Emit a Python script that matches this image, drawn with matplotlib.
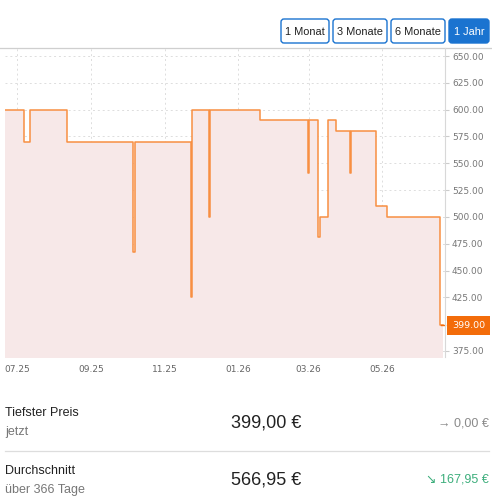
import matplotlib
matplotlib.use("Agg")
import matplotlib.pyplot as plt
import matplotlib.dates as mdates
import matplotlib.transforms as mtrans
from matplotlib.patches import FancyBboxPatch
import pandas as pd

plt.rcParams['font.family'] = ['Liberation Sans', 'DejaVu Sans']

# ── price history (step changes) ─────────────────────────────────────
dates = ["2025-06-21", "2025-07-07", "2025-07-12", "2025-08-12", "2025-10-06",
         "2025-10-07", "2025-11-23", "2025-11-24", "2025-12-08", "2025-12-09",
         "2026-01-19", "2026-02-28", "2026-03-01", "2026-03-09", "2026-03-10",
         "2026-03-17", "2026-03-24", "2026-04-04", "2026-04-05", "2026-04-26",
         "2026-05-05", "2026-06-18", "2026-06-21"]
prices = [600, 570, 600, 570, 467,
          570, 425, 600, 500, 600,
          590, 541, 590, 481, 500,
          590, 580, 541, 580, 510,
          500, 399, 399]

y_ticks = [375, 400, 425, 450, 475, 500, 525, 550, 575, 600, 625, 650]
x_ticks = ["2025-07-01", "2025-09-01", "2025-11-01", "2026-01-01", "2026-03-01", "2026-05-01"]
buttons = ["1 Monat", "3 Monate", "6 Monate", "1 Jahr"]
current_price = 399.00

stats = [
    ("Tiefster Preis", "jetzt", "399,00 €", "→ 0,00 €", "#8a8a8a"),
    ("Durchschnitt", "über 366 Tage", "566,95 €", "↘ 167,95 €", "#3dae7c"),
]

W, H = 492, 501
fig = plt.figure(figsize=(W / 100, H / 100), dpi=100)

def fx(px):
    return px / W

def fy(py):
    return 1 - py / H

# ── chart ─────────────────────────────────────────────────────────────
ax = fig.add_axes([fx(5), fy(357), fx(445) - fx(5), fy(48) - fy(357)])
ax.patch.set_alpha(0)
d = pd.to_datetime(dates)
ax.fill_between(d, prices, 300, step="post", color="#f7e8e8", lw=0)
ax.step(d, prices, where="post", color="#f88f42", lw=1.1)

ax.set_ylim(369.4, 657.5)
ax.set_xlim(pd.Timestamp("2025-06-21"), pd.Timestamp("2026-06-22 12:00"))
ax.set_yticks([v for v in y_ticks if v != 400])
ax.set_yticklabels([f"{v:.2f}" for v in y_ticks if v != 400])
ax.yaxis.tick_right()
ax.set_xticks(pd.to_datetime(x_ticks))
ax.xaxis.set_major_formatter(mdates.DateFormatter("%m.%y"))
ax.tick_params(axis="y", length=3, color="#cccccc", labelsize=6.5, labelcolor="#777777", pad=2)
ax.tick_params(axis="x", length=0, labelsize=6.5, labelcolor="#666666", pad=6)
for lbl in ax.get_xticklabels() + ax.get_yticklabels():
    lbl.set_family("DejaVu Sans")
ax.grid(True, ls=(0, (2, 3)), color="#dddddd", lw=0.7)
ax.set_axisbelow(True)
for s in ["top", "left", "bottom"]:
    ax.spines[s].set_visible(False)
ax.spines["right"].set_color("#d8d8d8")
ax.spines["right"].set_linewidth(0.8)

# current price label
blend = mtrans.blended_transform_factory(ax.transAxes, ax.transData)
ax.text(1.016, current_price, f"{current_price:.2f}", transform=blend, va="center",
        ha="left", fontsize=6.8, color="white", family="DejaVu Sans",
        bbox=dict(boxstyle="square,pad=0.55", fc="#f36c0a", ec="none"))
ax.plot([0.99, 1.0], [current_price, current_price], transform=blend,
        color="#f36c0a", lw=1, clip_on=False)

# ── overlay (buttons, summary) ───────────────────────────────────────
ov = fig.add_axes([0, 0, 1, 1], zorder=-1)
ov.set_xlim(0, W)
ov.set_ylim(H, 0)
ov.axis("off")
ov.plot([0, W], [47.5, 47.5], color="#cfcfcf", lw=0.9)

btn_x = [(281, 329), (333, 387), (391, 445), (449, 489)]
for (x0, x1), label in zip(btn_x, buttons):
    active = label == "1 Jahr"
    ov.add_patch(FancyBboxPatch((x0, 19), x1 - x0, 24,
                                boxstyle="round,pad=0,rounding_size=3",
                                fc="#1a73d0" if active else "white",
                                ec="#1a73d0", lw=1))
    ov.text((x0 + x1) / 2, 31.5, label, ha="center", va="center", fontsize=7.9,
            color="white" if active else "#222222")

row_y = [413.5, 470.5]
for y0, (title, sub, value, delta, dcol) in zip(row_y, stats):
    ov.text(5, y0, title, ha="left", va="center", fontsize=9, color="#222222")
    ov.text(5, y0 + 19, sub, ha="left", va="center", fontsize=9, color="#777777")
    ov.text(266, y0 + 9.5, value, ha="center", va="center", fontsize=13, color="#222222")
    ov.text(489, y0 + 9.5, delta, ha="right", va="center", fontsize=9, color=dcol)
ov.plot([5, 489], [451, 451], color="#dddddd", lw=0.9)

fig.savefig("out.png", dpi=100)
